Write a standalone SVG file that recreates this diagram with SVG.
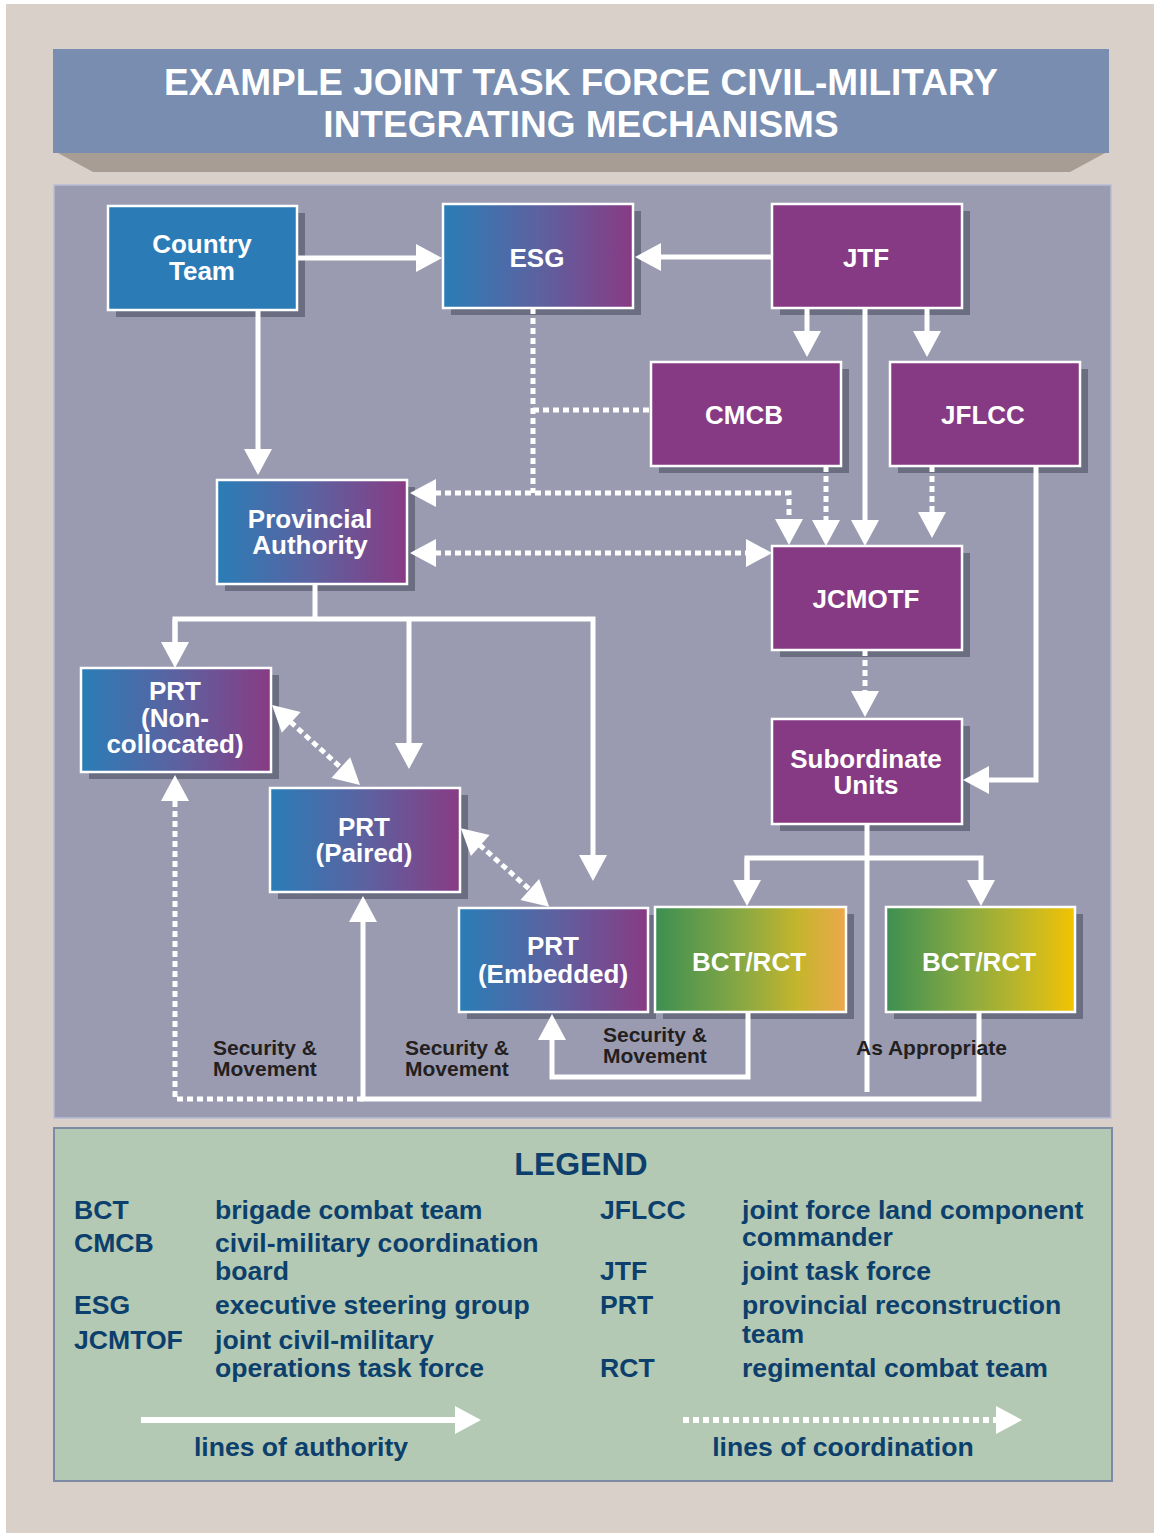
<svg xmlns="http://www.w3.org/2000/svg" width="1154" height="1533" viewBox="0 0 1154 1533">
<style>
.shadow{fill:#6a6e80}
.node{stroke:#fff;stroke-width:2.5}
.purple{fill:#873a84}
.blue{fill:#2b7bb6}
.lbl{font-family:"Liberation Sans",Arial,sans-serif;font-weight:bold;font-size:26px;fill:#fff;text-anchor:middle}
.solid{fill:none;stroke:#fff;stroke-width:5}
.dot{fill:none;stroke:#fff;stroke-width:5;stroke-dasharray:6 4}
.note{font-family:"Liberation Sans",Arial,sans-serif;font-weight:bold;font-size:21px;fill:#231f20}
.lg{font-family:"Liberation Sans",Arial,sans-serif;font-weight:bold;font-size:26.6px;fill:#0d3f6d}
.title{font-family:"Liberation Sans",Arial,sans-serif;font-weight:bold;font-size:37px;fill:#fff;text-anchor:middle}
</style>
<defs>
<linearGradient id="gBP" x1="0" y1="0" x2="1" y2="0">
<stop offset="0" stop-color="#2a7db7"/><stop offset="0.5" stop-color="#5c62a0"/><stop offset="1" stop-color="#883b84"/>
</linearGradient>
<linearGradient id="gB1" x1="0" y1="0" x2="1" y2="0">
<stop offset="0" stop-color="#3c8f52"/><stop offset="0.45" stop-color="#88a843"/><stop offset="0.75" stop-color="#c5b52c"/><stop offset="1" stop-color="#eca84c"/>
</linearGradient>
<linearGradient id="gB2" x1="0" y1="0" x2="1" y2="0">
<stop offset="0" stop-color="#3d8f52"/><stop offset="0.45" stop-color="#8dab40"/><stop offset="0.8" stop-color="#ccba20"/><stop offset="1" stop-color="#f3c300"/>
</linearGradient>
<marker id="ah" markerUnits="userSpaceOnUse" markerWidth="27" markerHeight="28" refX="1" refY="14" orient="auto-start-reverse" overflow="visible">
<path d="M0,0 L26,14 L0,28 z" fill="#fff"/>
</marker>
</defs>

<rect x="0" y="0" width="1154" height="1533" fill="#fff"/>
<rect x="6" y="4" width="1148" height="1529" fill="#dad0ca"/>

<g id="title">
<polygon points="58,153 1105,153 1070,172 93,172" fill="#a89d94"/>
<rect x="53" y="49" width="1056" height="104" fill="#788daf"/>
<text class="title" x="581" y="95">EXAMPLE JOINT TASK FORCE CIVIL-MILITARY</text>
<text class="title" x="581" y="137">INTEGRATING MECHANISMS</text>
</g>

<rect id="panel" x="54" y="185" width="1057" height="933" fill="#9a9bb0" stroke="#b8bdd8" stroke-width="1.5"/>

<g id="node-country-team">
<rect class="shadow" x="116" y="213" width="189" height="104"/>
<rect class="node blue" x="108" y="206" width="189" height="104"/>
<text class="lbl" x="202" y="253">Country</text>
<text class="lbl" x="202" y="280">Team</text>
</g>
<g id="node-esg">
<rect class="shadow" x="451" y="211" width="190" height="104"/>
<rect class="node" fill="url(#gBP)" x="443" y="204" width="190" height="104"/>
<text class="lbl" x="537" y="267">ESG</text>
</g>
<g id="node-jtf">
<rect class="shadow" x="780" y="211" width="190" height="104"/>
<rect class="node purple" x="772" y="204" width="190" height="104"/>
<text class="lbl" x="866" y="267">JTF</text>
</g>
<g id="node-cmcb">
<rect class="shadow" x="659" y="369" width="190" height="104"/>
<rect class="node purple" x="651" y="362" width="190" height="104"/>
<text class="lbl" x="744" y="424">CMCB</text>
</g>
<g id="node-jflcc">
<rect class="shadow" x="898" y="369" width="190" height="104"/>
<rect class="node purple" x="890" y="362" width="190" height="104"/>
<text class="lbl" x="983" y="424">JFLCC</text>
</g>
<g id="node-provincial-authority">
<rect class="shadow" x="225" y="487" width="190" height="104"/>
<rect class="node" fill="url(#gBP)" x="217" y="480" width="190" height="104"/>
<text class="lbl" x="310" y="528">Provincial</text>
<text class="lbl" x="310" y="554">Authority</text>
</g>
<g id="node-jcmotf">
<rect class="shadow" x="780" y="553" width="190" height="104"/>
<rect class="node purple" x="772" y="546" width="190" height="104"/>
<text class="lbl" x="866" y="608">JCMOTF</text>
</g>
<g id="node-prt-noncollocated">
<rect class="shadow" x="89" y="675" width="190" height="104"/>
<rect class="node" fill="url(#gBP)" x="81" y="668" width="190" height="104"/>
<text class="lbl" x="175" y="700">PRT</text>
<text class="lbl" x="175" y="727">(Non-</text>
<text class="lbl" x="175" y="753">collocated)</text>
</g>
<g id="node-prt-paired">
<rect class="shadow" x="278" y="795" width="190" height="104"/>
<rect class="node" fill="url(#gBP)" x="270" y="788" width="190" height="104"/>
<text class="lbl" x="364" y="836">PRT</text>
<text class="lbl" x="364" y="862">(Paired)</text>
</g>
<g id="node-subordinate-units">
<rect class="shadow" x="780" y="726" width="190" height="105"/>
<rect class="node purple" x="772" y="719" width="190" height="105"/>
<text class="lbl" x="866" y="768">Subordinate</text>
<text class="lbl" x="866" y="794">Units</text>
</g>
<g id="node-prt-embedded">
<rect class="shadow" x="467" y="915" width="189" height="104"/>
<rect class="node" fill="url(#gBP)" x="459" y="908" width="189" height="104"/>
<text class="lbl" x="553" y="955">PRT</text>
<text class="lbl" x="553" y="983">(Embedded)</text>
</g>
<g id="node-bct-rct-1">
<rect class="shadow" x="663" y="914" width="191" height="105"/>
<rect class="node" fill="url(#gB1)" x="655" y="907" width="191" height="105"/>
<text class="lbl" x="749" y="971">BCT/RCT</text>
</g>
<g id="node-bct-rct-2">
<rect class="shadow" x="894" y="914" width="189" height="105"/>
<rect class="node" fill="url(#gB2)" x="886" y="907" width="189" height="105"/>
<text class="lbl" x="979" y="971">BCT/RCT</text>
</g>

<g id="connectors">
<path class="solid" d="M297,258 H417" marker-end="url(#ah)"/>
<path class="solid" d="M772,257 H660" marker-end="url(#ah)"/>
<path class="solid" d="M807,308 V332" marker-end="url(#ah)"/>
<path class="solid" d="M927,308 V332" marker-end="url(#ah)"/>
<path class="solid" d="M865,308 V521" marker-end="url(#ah)"/>
<path class="solid" d="M258,310 V450" marker-end="url(#ah)"/>
<path class="solid" d="M1036,466 V780 H988" marker-end="url(#ah)"/>
<path class="solid" d="M315,584 V619"/>
<path class="solid" d="M175,643 V619 H593 V856" marker-end="url(#ah)"/>
<path class="solid" d="M175,619 V643" marker-end="url(#ah)"/>
<path class="solid" d="M409,619 V744" marker-end="url(#ah)"/>
<path class="solid" d="M867,824 V1092"/>
<path class="solid" d="M747,881 V858 H981 V881" marker-end="url(#ah)"/>
<path class="solid" d="M747,858 V881" marker-end="url(#ah)"/>
<path class="solid" d="M979,1012 V1099 H363 V921" marker-end="url(#ah)"/>
<path class="solid" d="M748,1012 V1077 H552 V1039" marker-end="url(#ah)"/>

<path class="dot" d="M533,308 V493"/>
<path class="dot" d="M435,493 H789 V520" marker-start="url(#ah)" marker-end="url(#ah)"/>
<path class="dot" d="M533,410 H651"/>
<path class="dot" d="M826,466 V521" marker-end="url(#ah)"/>
<path class="dot" d="M932,466 V513" marker-end="url(#ah)"/>
<path class="dot" d="M435,553 H747" marker-start="url(#ah)" marker-end="url(#ah)"/>
<path class="dot" d="M865,650 V692" marker-end="url(#ah)"/>
<path class="dot" d="M290.5,721.8 L341.5,768.2" marker-start="url(#ah)" marker-end="url(#ah)"/>
<path class="dot" d="M479.5,844.8 L530.5,890.2" marker-start="url(#ah)" marker-end="url(#ah)"/>
<path class="dot" d="M363,1099 H175 V800" marker-end="url(#ah)"/>
</g>

<g id="notes">
<text class="note" x="213" y="1055">Security &amp;</text>
<text class="note" x="213" y="1076">Movement</text>
<text class="note" x="405" y="1055">Security &amp;</text>
<text class="note" x="405" y="1076">Movement</text>
<text class="note" x="603" y="1042">Security &amp;</text>
<text class="note" x="603" y="1063">Movement</text>
<text class="note" x="856" y="1055">As Appropriate</text>
</g>

<g id="legend">
<rect x="54" y="1128" width="1058" height="353" fill="#b3c9b3" stroke="#7e8aa3" stroke-width="2"/>
<text class="lg" x="581" y="1175" text-anchor="middle" style="font-size:32px">LEGEND</text>
<text class="lg" x="74" y="1219">BCT</text>
<text class="lg" x="215" y="1219">brigade combat team</text>
<text class="lg" x="74" y="1252">CMCB</text>
<text class="lg" x="215" y="1252">civil-military coordination</text>
<text class="lg" x="215" y="1280">board</text>
<text class="lg" x="74" y="1314">ESG</text>
<text class="lg" x="215" y="1314">executive steering group</text>
<text class="lg" x="74" y="1349">JCMTOF</text>
<text class="lg" x="215" y="1349">joint civil-military</text>
<text class="lg" x="215" y="1377">operations task force</text>
<text class="lg" x="600" y="1219">JFLCC</text>
<text class="lg" x="742" y="1219">joint force land component</text>
<text class="lg" x="742" y="1246">commander</text>
<text class="lg" x="600" y="1280">JTF</text>
<text class="lg" x="742" y="1280">joint task force</text>
<text class="lg" x="600" y="1314">PRT</text>
<text class="lg" x="742" y="1314">provincial reconstruction</text>
<text class="lg" x="742" y="1343">team</text>
<text class="lg" x="600" y="1377">RCT</text>
<text class="lg" x="742" y="1377">regimental combat team</text>
<path d="M141,1420 H456" stroke="#fff" stroke-width="6" fill="none" marker-end="url(#ah)"/>
<path d="M683,1420 H997" stroke="#fff" stroke-width="6" stroke-dasharray="6 4" fill="none" marker-end="url(#ah)"/>
<text class="lg" x="301" y="1456" text-anchor="middle">lines of authority</text>
<text class="lg" x="843" y="1456" text-anchor="middle">lines of coordination</text>
</g>
</svg>
